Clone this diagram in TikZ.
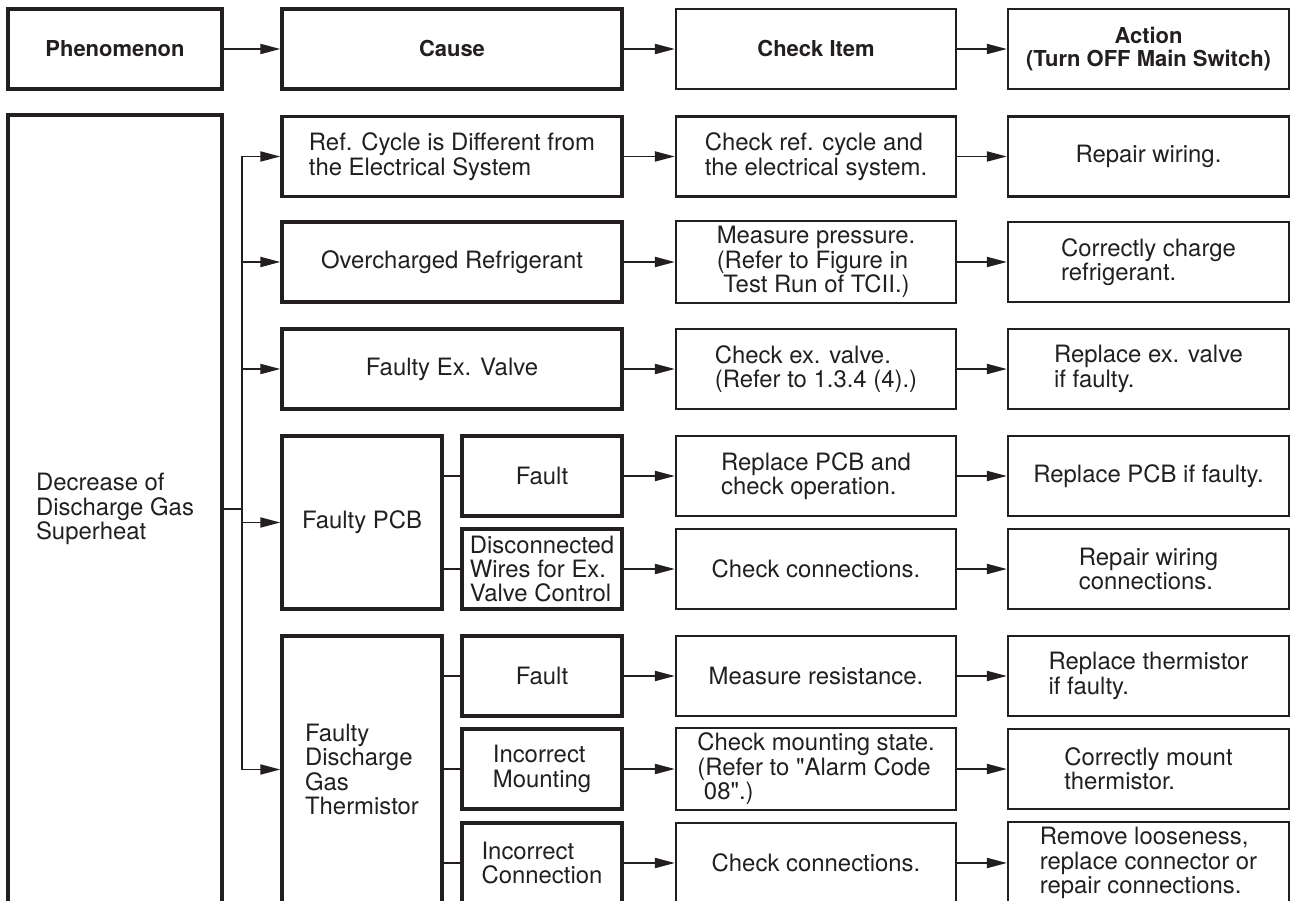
\documentclass[tikz,border=0pt]{standalone}
\usepackage{fontspec}
\setmainfont{TeX Gyre Heros}[Ligatures=TeXOff]
\usetikzlibrary{arrows.meta, positioning}
\definecolor{cink}{HTML}{231F20}
\tikzset{
  every picture/.style={font=\fontsize{13.6}{13.9}\selectfont, color=cink, line width=1.1pt},
  cell/.style={draw, rectangle, align=left, inner sep=3pt, line width=1.3pt, minimum height=1.6cm},
  heavy/.style={cell, line width=1.9pt},
  arrow/.style={-{Triangle[length=0.4cm, width=0.2cm]}, line width=1.1pt},
  link/.style={line width=1.1pt},
  head/.style={font=\fontsize{12.5}{13.2}\selectfont\bfseries, align=center},
}

\begin{document}
\begin{tikzpicture}[x=0.02cm, y=-0.02cm,
  cause/.style={heavy, minimum width=6.8cm}, sub/.style={heavy, minimum width=3.2cm},
  check/.style={cell, minimum width=5.6cm}, act/.style={cell, minimum width=5.62cm}]
  \useasboundingbox (0,0) rectangle (1291,901);
  \clip (0,0) rectangle (1291,901);
  % header row
  \node[heavy, head, minimum width=4.28cm] (phenH) at (115,49) {Phenomenon};
  \node[heavy, head, minimum width=6.8cm] (causeH) at (452,49) {Cause};
  \node[cell, head, minimum width=5.6cm] (checkH) at (816,49) {Check Item};
  \node[cell, head, minimum width=5.62cm] (actH) at (1148.5,49) {Action\\(Turn OFF Main Switch)};
  \foreach \a/\b in {phenH/causeH, causeH/checkH, checkH/actH} {\draw[arrow] (\a) -- (\b);}
  % phenomenon and causes
  \node[heavy, minimum width=4.28cm, minimum height=15.76cm] (phen) at (115,509) {Decrease of\\Discharge Gas\\Superheat};
  \node[cause] (c1) at (452,156.5) {Ref. Cycle is Different from\\the Electrical System};
  \node[cause] (c2) at (452,262) {Overcharged Refrigerant};
  \node[cause] (c3) at (452,369) {Faulty Ex. Valve};
  \node[sub, minimum height=3.46cm] (pcb) at (362,522.5) {Faulty PCB};
  \node[sub] (pcbF) at (542,476) {Fault};
  \node[sub] (pcbW) at (542,569) {Disconnected\\Wires for Ex.\\Valve Control};
  \node[sub, minimum height=5.34cm] (thm) at (362,769.5) {Faulty\\Discharge\\Gas\\Thermistor};
  \node[sub] (thmF) at (542,676) {Fault};
  \node[sub] (thmM) at (542,769) {Incorrect\\Mounting};
  \node[sub] (thmC) at (542,863) {Incorrect\\Connection};
  \coordinate (split) at (242,509);
  \draw[link] (phen) -- (split);
  \draw[link] (split |- c1) -- (split |- thm);
  \foreach \c in {c1,c2,c3,pcb,thm} {\draw[arrow] (split |- \c) -- (\c);}
  \foreach \p/\s in {pcb/pcbF, pcb/pcbW, thm/thmF, thm/thmM, thm/thmC} {\draw[link] (\p.east |- \s) -- (\s);}
  % check items
  \node[check] (k1) at (816,156.5) {Check ref. cycle and\\the electrical system.};
  \node[check] (k2) at (816,262) {Measure pressure.\\(Refer to Figure in\\\ Test Run of TCII.)};
  \node[check] (k3) at (816,369) {Check ex. valve.\\(Refer to 1.3.4 (4).)};
  \node[check] (k4) at (816,476) {Replace PCB and\\check operation.};
  \node[check] (k5) at (816,569) {Check connections.};
  \node[check] (k6) at (816,676) {Measure resistance.};
  \node[check] (k7) at (816,769) {Check mounting state.\\(Refer to "Alarm Code\\\ 08".)};
  \node[check] (k8) at (816,863) {Check connections.};
  % actions
  \node[act] (a1) at (1148.5,156.5) {Repair wiring.};
  \node[act] (a2) at (1148.5,262) {Correctly charge\\refrigerant.};
  \node[act] (a3) at (1148.5,369) {Replace ex. valve\\if faulty.};
  \node[act] (a4) at (1148.5,476) {Replace PCB if faulty.};
  \node[act] (a5) at (1148.5,569) {Repair wiring\\connections.};
  \node[act] (a6) at (1148.5,676) {Replace thermistor\\if faulty.};
  \node[act] (a7) at (1148.5,769) {Correctly mount\\thermistor.};
  \node[act] (a8) at (1148.5,863) {Remove looseness,\\replace connector or\\repair connections.};
  \foreach \c/\i in {c1/1, c2/2, c3/3, pcbF/4, pcbW/5, thmF/6, thmM/7, thmC/8} {
    \draw[arrow] (\c) -- (k\i);
    \draw[arrow] (k\i) -- (a\i);
  }
\end{tikzpicture}
\end{document}
